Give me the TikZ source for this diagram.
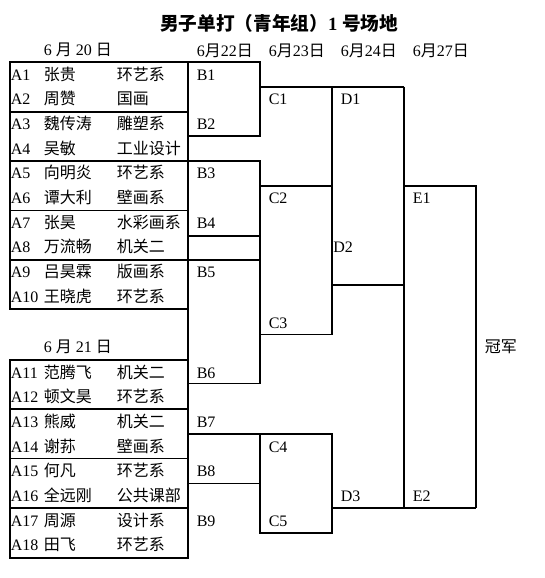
\documentclass[tikz,border=0pt]{standalone}
\usepackage{fontspec}
\setmainfont{Liberation Serif}
\newfontfamily\cjk{Noto Sans CJK SC}
\usepackage{tikz}
\usetikzlibrary{positioning, calc}

\newcommand{\zh}[1]{{\cjk #1}}

\begin{document}
\begin{tikzpicture}[
    x=0.75pt,y=-0.75pt,
    line width=1.2pt,
    entry/.style={anchor=base west, inner sep=0pt, font=\fontsize{12}{14}\selectfont},
    datum/.style={anchor=base west, inner sep=0pt, font=\fontsize{12}{14}\selectfont},
    heading/.style={anchor=base, inner sep=0pt, font=\fontsize{14}{16}\selectfont\bfseries}
]
    \useasboundingbox (0,0) rectangle (544,578);

    % ================= TITLE & DATES =================
    \node[heading] (title) at (279,30) {\zh{男子单打（青年组）}1 \zh{号场地}};
    \node[datum] (d20) at (43,55) {6 \zh{月} 20 \zh{日}};
    \node[datum] (d21) at (43,352) {6 \zh{月} 21 \zh{日}};
    \node[datum] (d22) at (196,56) {6\zh{月}22\zh{日}};
    \node[datum] (d23) at (268,56) {6\zh{月}23\zh{日}};
    \node[datum] (d24) at (340,56) {6\zh{月}24\zh{日}};
    \node[datum] (d27) at (412,56) {6\zh{月}27\zh{日}};

    % ================= PLAYERS =================
    \node[entry] (a1) at (10,80) {A1};
    \node[entry] (nm1) at (43,80) {\zh{张贵}};
    \node[entry] (dp1) at (116,80) {\zh{环艺系}};
    \node[entry] (a2) at (10,104.7) {A2};
    \node[entry] (nm2) at (43,104.7) {\zh{周赞}};
    \node[entry] (dp2) at (116,104.7) {\zh{国画}};
    \node[entry] (a3) at (10,129.4) {A3};
    \node[entry] (nm3) at (43,129.4) {\zh{魏传涛}};
    \node[entry] (dp3) at (116,129.4) {\zh{雕塑系}};
    \node[entry] (a4) at (10,154.1) {A4};
    \node[entry] (nm4) at (43,154.1) {\zh{吴敏}};
    \node[entry] (dp4) at (116,154.1) {\zh{工业设计}};
    \node[entry] (a5) at (10,178.8) {A5};
    \node[entry] (nm5) at (43,178.8) {\zh{向明炎}};
    \node[entry] (dp5) at (116,178.8) {\zh{环艺系}};
    \node[entry] (a6) at (10,203.5) {A6};
    \node[entry] (nm6) at (43,203.5) {\zh{谭大利}};
    \node[entry] (dp6) at (116,203.5) {\zh{壁画系}};
    \node[entry] (a7) at (10,228.2) {A7};
    \node[entry] (nm7) at (43,228.2) {\zh{张昊}};
    \node[entry] (dp7) at (116,228.2) {\zh{水彩画系}};
    \node[entry] (a8) at (10,252.9) {A8};
    \node[entry] (nm8) at (43,252.9) {\zh{万流畅}};
    \node[entry] (dp8) at (116,252.9) {\zh{机关二}};
    \node[entry] (a9) at (10,277.6) {A9};
    \node[entry] (nm9) at (43,277.6) {\zh{吕昊霖}};
    \node[entry] (dp9) at (116,277.6) {\zh{版画系}};
    \node[entry] (a10) at (10,302.3) {A10};
    \node[entry] (nm10) at (43,302.3) {\zh{王晓虎}};
    \node[entry] (dp10) at (116,302.3) {\zh{环艺系}};

    \node[entry] (a11) at (10,378) {A11};
    \node[entry] (nm11) at (43,378) {\zh{范腾飞}};
    \node[entry] (dp11) at (116,378) {\zh{机关二}};
    \node[entry] (a12) at (10,402.7) {A12};
    \node[entry] (nm12) at (43,402.7) {\zh{顿文昊}};
    \node[entry] (dp12) at (116,402.7) {\zh{环艺系}};
    \node[entry] (a13) at (10,427.4) {A13};
    \node[entry] (nm13) at (43,427.4) {\zh{熊威}};
    \node[entry] (dp13) at (116,427.4) {\zh{机关二}};
    \node[entry] (a14) at (10,452.1) {A14};
    \node[entry] (nm14) at (43,452.1) {\zh{谢荪}};
    \node[entry] (dp14) at (116,452.1) {\zh{壁画系}};
    \node[entry] (a15) at (10,476.8) {A15};
    \node[entry] (nm15) at (43,476.8) {\zh{何凡}};
    \node[entry] (dp15) at (116,476.8) {\zh{环艺系}};
    \node[entry] (a16) at (10,501.5) {A16};
    \node[entry] (nm16) at (43,501.5) {\zh{全远刚}};
    \node[entry] (dp16) at (116,501.5) {\zh{公共课部}};
    \node[entry] (a17) at (10,526.2) {A17};
    \node[entry] (nm17) at (43,526.2) {\zh{周源}};
    \node[entry] (dp17) at (116,526.2) {\zh{设计系}};
    \node[entry] (a18) at (10,550.9) {A18};
    \node[entry] (nm18) at (43,550.9) {\zh{田飞}};
    \node[entry] (dp18) at (116,550.9) {\zh{环艺系}};

    % ================= ROUND LABELS =================
    \node[entry] (b1) at (196,80) {B1};
    \node[entry] (b2) at (196,129.4) {B2};
    \node[entry] (b3) at (196,178.8) {B3};
    \node[entry] (b4) at (196,228.2) {B4};
    \node[entry] (b5) at (196,277.6) {B5};
    \node[entry] (b6) at (196,378) {B6};
    \node[entry] (b7) at (196,427.4) {B7};
    \node[entry] (b8) at (196,476.8) {B8};
    \node[entry] (b9) at (196,526.2) {B9};

    \node[entry] (c1) at (268,104.7) {C1};
    \node[entry] (c2) at (268,203.5) {C2};
    \node[entry] (c3) at (268,328.4) {C3};
    \node[entry] (c4) at (268,452.1) {C4};
    \node[entry] (c5) at (268,526.2) {C5};

    \node[entry] (dd1) at (340,104.7) {D1};
    \node[entry] (dd2) at (332.5,252.9) {D2};
    \node[entry] (dd3) at (340,501.5) {D3};

    \node[entry] (e1) at (412,203.5) {E1};
    \node[entry] (e2) at (412,501.5) {E2};

    \node[entry] (champ) at (484,352) {\zh{冠军}};

    % ================= PLAYER BOXES =================
    \draw (10,62) rectangle (188,112);
    \draw (10,112) rectangle (188,161);
    \draw (10,161) rectangle (188,210.5);
    \draw (10,210.5) rectangle (188,260);
    \draw (10,260) rectangle (188,309);
    \draw (188,309) -- (188,360);
    \draw (10,360) rectangle (188,409);
    \draw (10,409) rectangle (188,458.5);
    \draw (10,458.5) rectangle (188,508);
    \draw (10,508) rectangle (188,557.7);

    % ================= BRACKET LINES =================
    % 6/22
    \draw (188,62) -- (260,62) -- (260,136) -- (188,136);
    \draw (188,161) -- (260,161) -- (260,235.7) -- (188,235.7);
    \draw (188,260) -- (260,260) -- (260,383.3) -- (188,383.3);
    \draw (188,434) -- (332,434) -- (332,532.7) -- (260,532.7) -- (260,434);
    \draw (188,483.3) -- (260,483.3);

    % 6/23
    \draw (260,86.7) -- (404,86.7);
    \draw (332,86.7) -- (332,334.3) -- (260,334.3) -- (260,185.7) -- (332,185.7);

    % 6/24
    \draw (404,86.7) -- (404,507.7);
    \draw (332,285) -- (404,285);
    \draw (332,507.7) -- (476,507.7);

    % 6/27
    \draw (404,185.7) -- (476,185.7) -- (476,507.7);

\end{tikzpicture}
\end{document}
